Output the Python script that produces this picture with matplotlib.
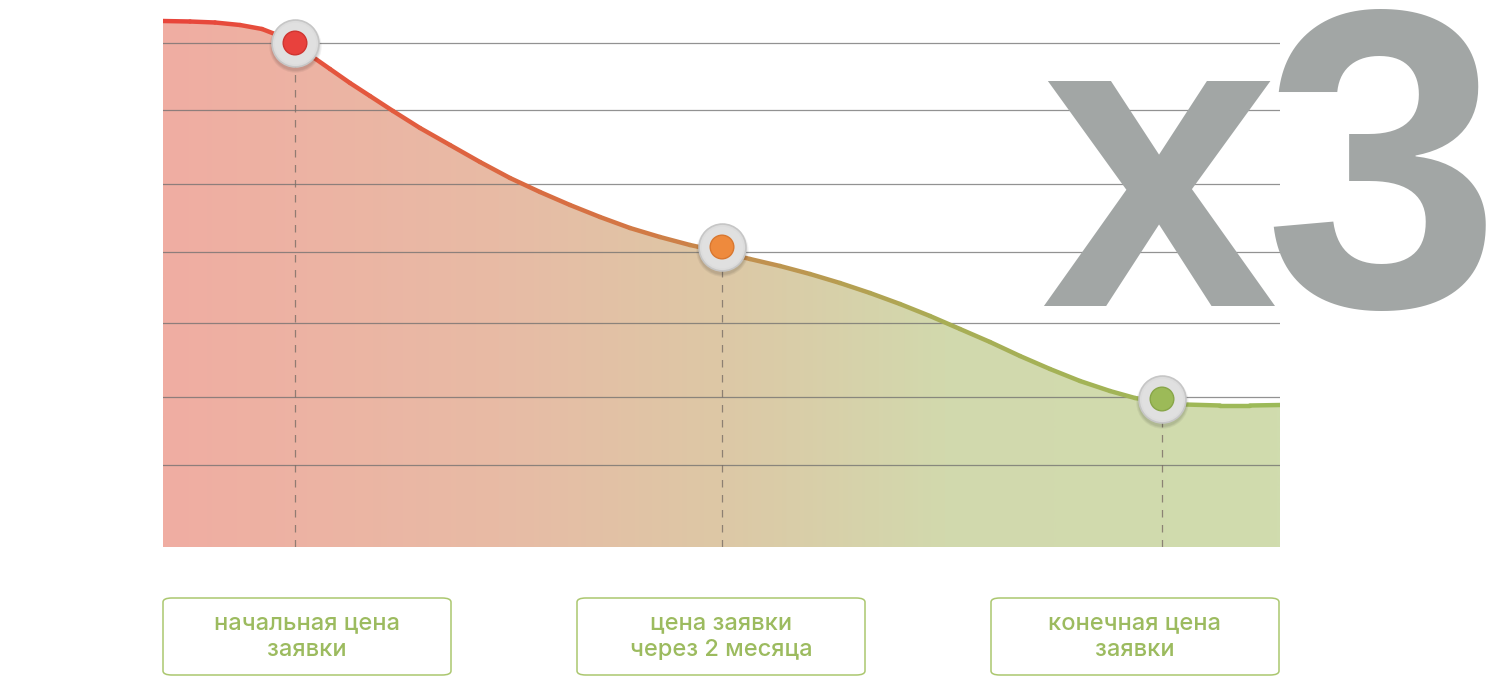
import numpy as np
import matplotlib
matplotlib.use('Agg')
import matplotlib.pyplot as plt
import matplotlib.transforms as mtransforms
from matplotlib.collections import LineCollection
from matplotlib.colors import LinearSegmentedColormap
from matplotlib.patches import FancyBboxPatch

plt.rcParams['font.family'] = ['Inter', 'DejaVu Sans']

# price curve (x: position along timeline, y: price level)
curve_x = [0, 27, 52, 77, 99, 117, 132, 147, 167, 187, 207, 230, 257, 287, 317, 347,
           377, 407, 437, 467, 497, 527, 559, 587, 617, 647, 677, 707, 737, 767, 797,
           827, 857, 887, 917, 947, 972, 997, 1022, 1057, 1087, 1117]
curve_y = [526, 525.5, 524.5, 522, 518, 511, 502, 492, 478, 464, 451, 436, 419, 402,
           385, 369, 355, 342, 330, 319, 310, 302, 295, 288, 281, 273, 264, 254, 243,
           231, 218, 205, 191, 178, 166, 156, 149, 145, 142.5, 141.5, 141.5, 142]

# three stages of the request price
stage_x = [132, 559, 999]
stage_y = [504, 300, 148]
stage_colors = ['#E8413D', '#EE8A3D', '#9CBA58']
stage_edges = ['#CF3430', '#D9772F', '#88A648']
stage_labels = ['начальная цена\nзаявки', 'цена заявки\nчерез 2 месяца', 'конечная цена\nзаявки']

grid_y = [504, 437, 363, 295, 224, 150, 82]

fig = plt.figure(figsize=(15, 6.77), dpi=100)
W, H = 1500, 677
ax = fig.add_axes([163 / W, (H - 547) / H, 1117 / W, 547 / H])
ax.set_xlim(0, 1117)
ax.set_ylim(0, 547)
ax.axis('off')

# gradient fill under the curve
fill_cmap = LinearSegmentedColormap.from_list('fill', [
    (0.0, '#F0ADA2'), (0.3, '#E8BBA5'), (0.5, '#DDC8A6'),
    (0.7, '#D2D9AD'), (1.0, '#D0DCAE')])
grad = np.linspace(0, 1, 512).reshape(1, -1)
poly = ax.fill_between(curve_x, curve_y, 0, color='none', lw=0)
img = ax.imshow(grad, cmap=fill_cmap, extent=[0, 1117, 0, 547], aspect='auto', zorder=1)
img.set_clip_path(poly.get_paths()[0], transform=ax.transData)

# big "x3"
big = dict(fontsize=307, fontweight='bold', color='#A2A6A5', va='baseline',
           family='Liberation Sans', zorder=2)
fig.text(1040 / W, (H - 306) / H, 'x', ha='left', **big)
fig.text(1500 / W, (H - 306) / H, '3', ha='right', **big)

# grid lines on top of the fill and the text
for gy in grid_y:
    ax.axhline(gy, color='#6E6E6E', lw=0.9, alpha=0.75, zorder=3)

# dashed drop lines from the stage points
for sx, sy in zip(stage_x, stage_y):
    ax.plot([sx, sx], [0, sy], color='#7A6E66', lw=0.9, alpha=0.8,
            dashes=(6, 6), zorder=3)

# curve with colour going from red to green
line_cmap = LinearSegmentedColormap.from_list('line', [
    (0.0, '#E8443B'), (0.2, '#E35A3E'), (0.42, '#D37744'),
    (0.55, '#BE9450'), (0.7, '#A8AD55'), (1.0, '#9CBB58')])
pts = np.array([curve_x, curve_y]).T.reshape(-1, 1, 2)
segs = np.concatenate([pts[:-1], pts[1:]], axis=1)
mid = (np.array(curve_x[:-1]) + np.array(curve_x[1:])) / 2 / 1117
lc = LineCollection(segs, colors=line_cmap(mid), linewidths=3.2, capstyle='round',
                    joinstyle='round', zorder=4)
ax.add_collection(lc)

# stage markers with a soft shadow
for k in [1.25, 1.15, 1.07]:
    shadow = mtransforms.offset_copy(ax.transData, fig=fig, x=0, y=-3, units='dots')
    ax.scatter(stage_x, stage_y, s=1140 * k, color='black', alpha=0.05, lw=0,
               transform=shadow, zorder=5)
ax.scatter(stage_x, stage_y, s=1140, color='#DCDCDC', edgecolor='#C6C6C6', lw=1.2, zorder=6)
ax.scatter(stage_x, stage_y, s=900, color='#E0E0E0', lw=0, zorder=6)
ax.scatter(stage_x, stage_y, s=290, color=stage_colors, edgecolor=stage_edges, lw=1.0, zorder=7)

# label boxes below the chart
box_left = [163, 577, 991]
for bl, lab in zip(box_left, stage_labels):
    box = FancyBboxPatch((bl / W, (H - 675) / H), 288 / W, 77 / H,
                         boxstyle='round,pad=0,rounding_size=0.006',
                         transform=fig.transFigure, facecolor='white',
                         edgecolor='#ABC76F', lw=1.1)
    fig.patches.append(box)
    fig.text((bl + 144) / W, (H - 637) / H, lab, ha='center', va='center',
             fontsize=17, color='#9CBB5F', fontweight='medium', linespacing=1.28)

fig.savefig('out.png', dpi=100)
